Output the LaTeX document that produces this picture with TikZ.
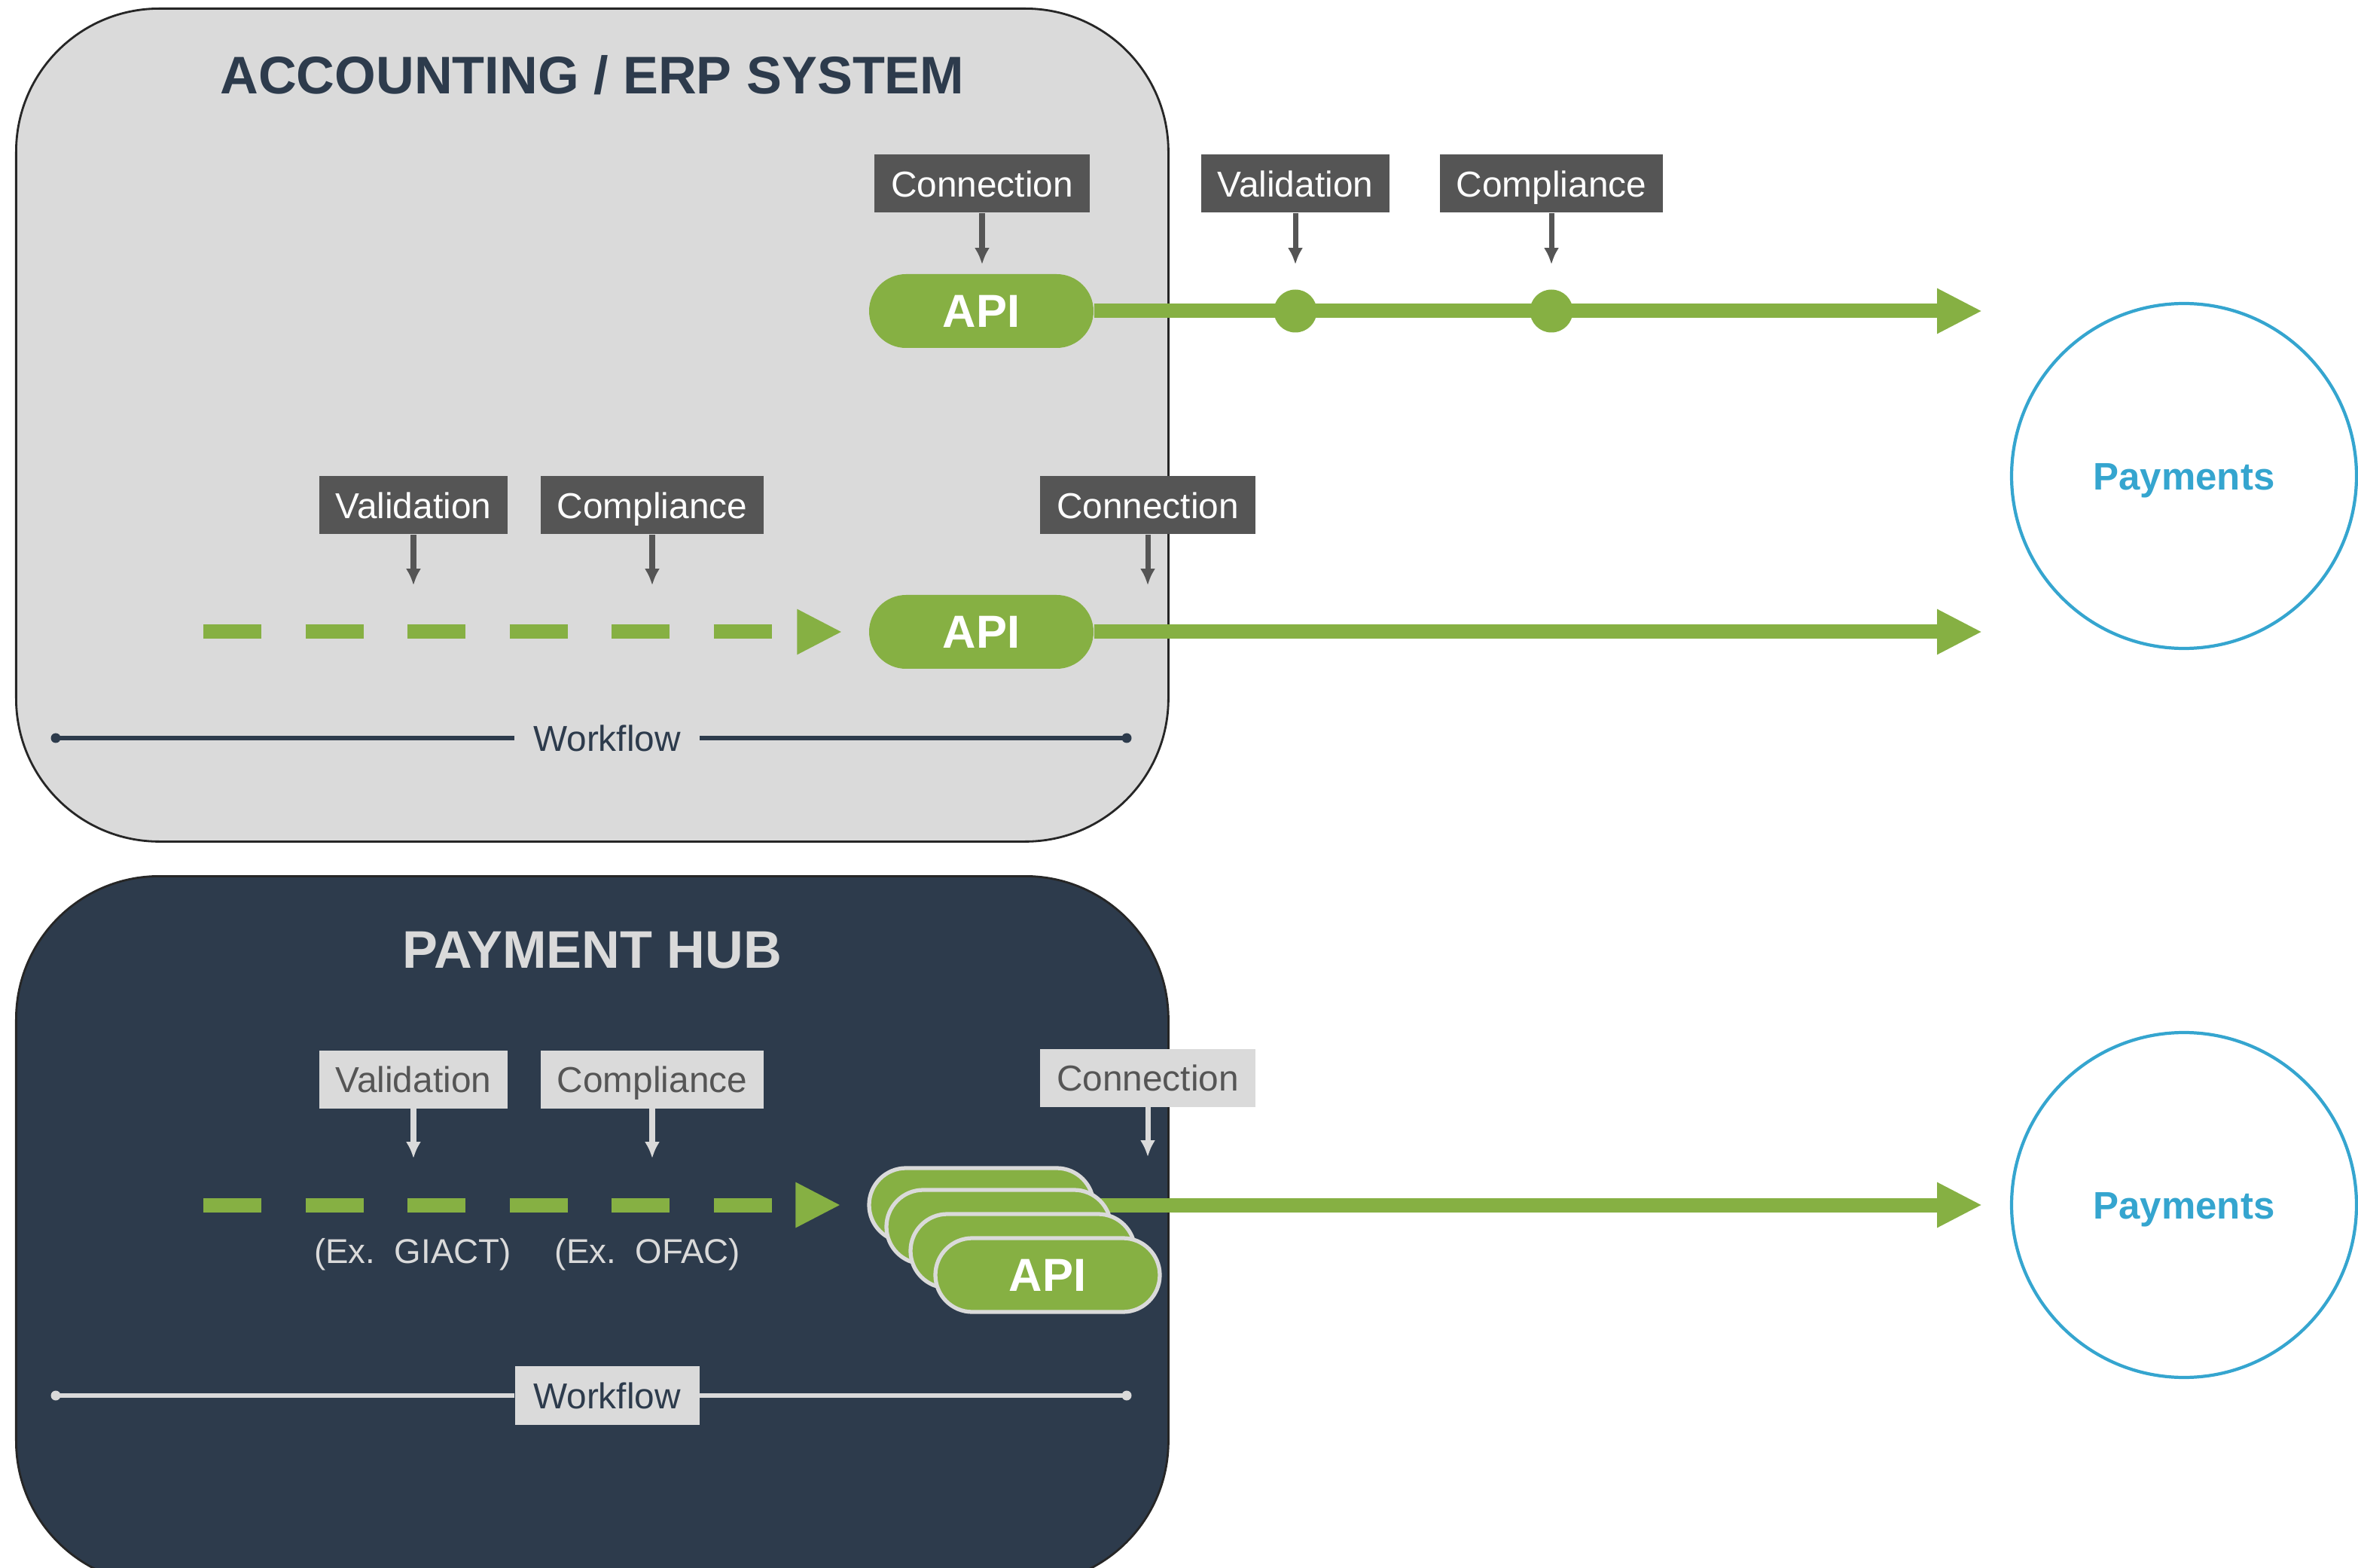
\documentclass[tikz,border=0pt]{standalone}
\usepackage{fontspec}
\setmainfont{Liberation Sans}
\usetikzlibrary{positioning,calc,arrows.meta}
\definecolor{boxgray}{HTML}{DADADA}
\definecolor{hubnavy}{HTML}{2D3B4C}
\definecolor{tagdark}{HTML}{555555}
\definecolor{apigreen}{HTML}{86B043}
\definecolor{payblue}{HTML}{35A5CF}
\tikzset{system box/.style={draw=black!85, line width=0.8pt, rectangle, rounded corners=1.9cm, minimum width=15.30cm, anchor=north west, inner sep=0pt}}
\tikzset{system title/.style={font=\bfseries\fontsize{20}{24}\selectfont}}
\tikzset{tag/.style={rectangle, inner xsep=0.22cm, inner ysep=0pt, minimum height=0.77cm, text height=12.2pt, text depth=2.5pt, font=\fontsize{13.6}{16}\selectfont}}
\tikzset{dark tag/.style={tag, fill=tagdark, text=white}}
\tikzset{light tag/.style={tag, fill=boxgray, text=tagdark}}
\tikzset{pointer/.style={line width=2pt, -{Latex[length=0.22cm, width=0.2cm]}}}
\tikzset{api/.style={rectangle, fill=apigreen, rounded corners=0.49cm, minimum width=2.98cm, minimum height=0.98cm, inner sep=0pt, text=white, font=\bfseries\fontsize{17.5}{20}\selectfont}}
\tikzset{api stacked/.style={api, draw=boxgray, line width=1.5pt}}
\tikzset{flow/.style={apigreen, line width=0.19cm, -{Triangle[length=0.6cm, width=0.56cm]}}}
\tikzset{flow dashed/.style={flow, dash pattern=on 0.77cm off 0.585cm}}
\tikzset{check dot/.style={circle, fill=apigreen, minimum size=0.57cm, inner sep=0pt}}
\tikzset{payments/.style={circle, draw=payblue, line width=1.2pt, minimum size=4.58cm, inner sep=0pt, text height=13pt, text depth=2.65pt, text=payblue, font=\bfseries\fontsize{14.5}{17}\selectfont}}
\tikzset{workflow/.style={rectangle, fill=boxgray, text=hubnavy, minimum width=2.45cm, minimum height=0.78cm, inner sep=0pt, font=\fontsize{13.6}{16}\selectfont}}
\tikzset{example note/.style={text=boxgray, font=\fontsize{13}{16}\selectfont}}

\begin{document}
\begin{tikzpicture}
\useasboundingbox (0,0) rectangle (31.31,-20.82);

% accounting / erp system
\node[system box, fill=boxgray, minimum height=11.06cm] (erp) at (0.20,-0.10) {};
\node[system title, text=hubnavy] (erptitle) at ($(erp.north)+(0,-0.90)$) {ACCOUNTING / ERP SYSTEM};

\node[dark tag] (conn1) at (13.04,-2.44) {Connection};
\node[dark tag] (valid1) at (17.20,-2.44) {Validation};
\node[dark tag] (comp1) at (20.60,-2.44) {Compliance};
\node[api] (api1) at (13.03,-4.13) {API};
\node[check dot] (vdot) at (17.20,-4.13) {};
\node[check dot] (cdot) at (20.60,-4.13) {};
\coordinate (out1) at (26.32,-4.13);
\draw[flow] (api1.east) -- (out1);
\foreach \t in {conn1,valid1,comp1}{
  \coordinate[below=0.68cm of \t] (\t tip);
  \draw[pointer, tagdark] (\t.south) -- (\t tip);
}

\node[dark tag] (valid2) at (5.49,-6.71) {Validation};
\node[dark tag] (comp2) at (8.66,-6.71) {Compliance};
\node[dark tag] (conn2) at (15.24,-6.71) {Connection};
\node[api] (api2) at (13.03,-8.39) {API};
\coordinate (in2) at (2.70,-8.39);
\coordinate (out2) at (26.32,-8.39);
\draw[flow dashed, shorten >=0.35cm] (in2) -- (api2.west);
\draw[flow] (api2.east) -- (out2);
\foreach \t in {valid2,comp2,conn2}{
  \coordinate[below=0.67cm of \t] (\t tip);
  \draw[pointer, tagdark] (\t.south) -- (\t tip);
}

\node[workflow] (wf1) at (8.06,-9.80) {Workflow};
\coordinate (wf1l) at (0.74,-9.80);
\coordinate (wf1r) at (14.96,-9.80);
\draw[hubnavy, line width=1.5pt] (wf1l) -- (wf1.west) (wf1.east) -- (wf1r);
\fill[hubnavy] (wf1l) circle (0.065) (wf1r) circle (0.065);

% payment hub
\node[system box, fill=hubnavy, minimum height=9.40cm] (hub) at (0.20,-11.62) {};
\node[system title, text=boxgray] (hubtitle) at ($(hub.north)+(0,-1.00)$) {PAYMENT HUB};

\node[light tag] (valid3) at (5.49,-14.33) {Validation};
\node[light tag] (comp3) at (8.66,-14.33) {Compliance};
\node[light tag] (conn3) at (15.24,-14.31) {Connection};
\foreach \t in {valid3,comp3,conn3}{
  \coordinate[below=0.66cm of \t] (\t tip);
  \draw[pointer, boxgray] (\t.south) -- (\t tip);
}
\node[example note] (giact) at (5.48,-16.66) {(Ex.\ \ GIACT)};
\node[example note] (ofac) at (8.60,-16.66) {(Ex.\ \ OFAC)};

\node[api stacked] (hub1) at (13.03,-16.00) {};
\coordinate (in3) at (2.70,-16.00);
\coordinate (out3) at (26.32,-16.00);
\draw[flow dashed, shorten >=0.35cm] (in3) -- (hub1.west);
\draw[flow] (hub1.east) -- (out3);
\node[api stacked] (hub2) at (13.26,-16.29) {};
\node[api stacked] (hub3) at (13.58,-16.61) {};
\node[api stacked] (hub4) at (13.91,-16.93) {API};

\node[workflow] (wf2) at (8.06,-18.53) {Workflow};
\coordinate (wf2l) at (0.74,-18.53);
\coordinate (wf2r) at (14.96,-18.53);
\draw[boxgray, line width=1.5pt] (wf2l) -- (wf2.west) (wf2.east) -- (wf2r);
\fill[boxgray] (wf2l) circle (0.065) (wf2r) circle (0.065);

% payments
\node[payments] (pay1) at (29.00,-6.32) {Payments};
\node[payments] (pay2) at (29.00,-16.00) {Payments};
\end{tikzpicture}
\end{document}
